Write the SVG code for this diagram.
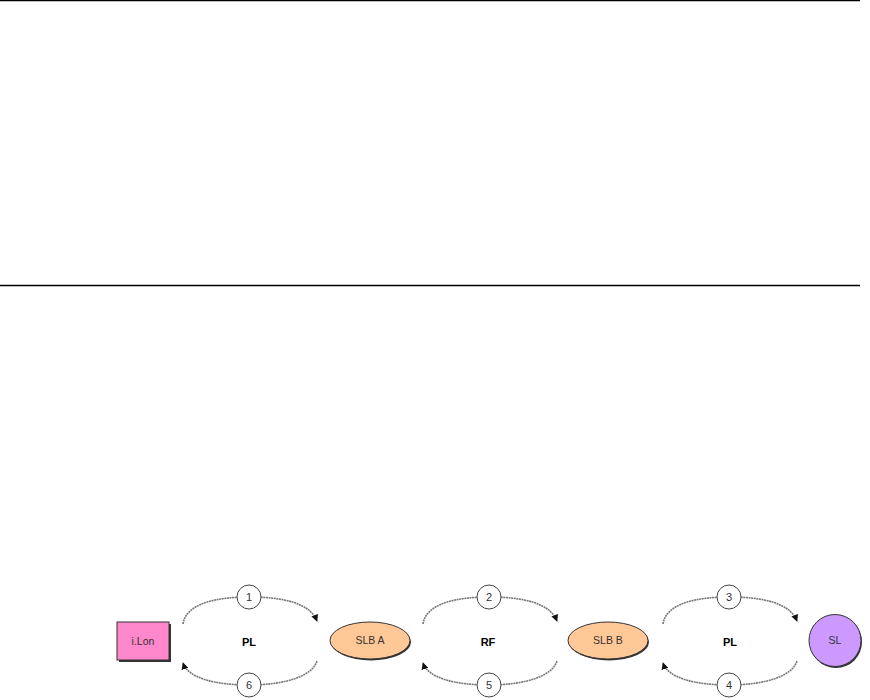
<svg xmlns="http://www.w3.org/2000/svg" width="870" height="700" viewBox="0 0 870 700">
<defs>
<marker id="ah" viewBox="0 0 10 10" refX="9" refY="5" markerWidth="7" markerHeight="7" markerUnits="userSpaceOnUse" orient="auto">
<path d="M0,0 L10,5 L0,10 z" fill="#111"/>
</marker>
<style>
.rule{stroke:#000;stroke-width:1.3;fill:none}
.arc{stroke:#777;stroke-width:1.6;fill:none;stroke-dasharray:2 0.6;marker-end:url(#ah)}
.badge{fill:#fff;stroke:#444;stroke-width:1}
.num{font-family:"Liberation Sans",Arial,sans-serif;font-size:11px;fill:#333;text-anchor:middle}
.lbl{font-family:"Liberation Sans",Arial,sans-serif;font-size:10.5px;fill:#333;text-anchor:middle}
.bold{font-family:"Liberation Sans",Arial,sans-serif;font-size:11px;font-weight:bold;fill:#000;text-anchor:middle}
.shadow{fill:#333}
</style>
</defs>
<rect width="870" height="700" fill="#fff"/>
<line class="rule" x1="0" y1="0.7" x2="860" y2="0.7"/>
<line class="rule" x1="0" y1="285.5" x2="860" y2="285.5"/>

<g id="connectors">
<path class="arc" d="M183,624 C186,604 215,597 249,597 C283,597 310,603 317,621"/>
<path class="arc" d="M317,661 C312,677 283,685 249,685 C215,685 188,678 183,663"/>
<path class="arc" d="M423,624 C426,604 455,597 489,597 C523,597 550,603 557,621"/>
<path class="arc" d="M557,661 C552,677 523,685 489,685 C455,685 428,678 423,663"/>
<path class="arc" d="M663,624 C666,604 695,597 729,597 C763,597 790,603 797,621"/>
<path class="arc" d="M797,661 C792,677 763,685 729,685 C695,685 668,678 663,663"/>
<g id="label1"><circle class="badge" cx="249" cy="597" r="12"/><text class="num" x="249" y="601">1</text></g>
<g id="label6"><circle class="badge" cx="249" cy="685" r="12"/><text class="num" x="249" y="689">6</text></g>
<g id="label2"><circle class="badge" cx="489" cy="597" r="12"/><text class="num" x="489" y="601">2</text></g>
<g id="label5"><circle class="badge" cx="489" cy="685" r="12"/><text class="num" x="489" y="689">5</text></g>
<g id="label3"><circle class="badge" cx="729" cy="597" r="12"/><text class="num" x="729" y="601">3</text></g>
<g id="label4"><circle class="badge" cx="729" cy="685" r="12"/><text class="num" x="729" y="689">4</text></g>
<text class="bold" x="249" y="646">PL</text>
<text class="bold" x="488" y="646">RF</text>
<text class="bold" x="730" y="646">PL</text>
</g>

<g id="ilon">
<rect class="shadow" x="119" y="624" width="52" height="38"/>
<rect x="117" y="622" width="52" height="38" fill="#ff88cc" stroke="#333" stroke-width="1"/>
<text class="lbl" x="143" y="645">i.Lon</text>
</g>
<g id="slba">
<ellipse class="shadow" cx="371" cy="642" rx="40" ry="18.5"/>
<ellipse cx="370" cy="640.5" rx="40" ry="18.5" fill="#ffc896" stroke="#333" stroke-width="1"/>
<text class="lbl" x="370" y="644">SLB A</text>
</g>
<g id="slbb">
<ellipse class="shadow" cx="609" cy="642" rx="40" ry="18.5"/>
<ellipse cx="608" cy="640.5" rx="40" ry="18.5" fill="#ffc896" stroke="#333" stroke-width="1"/>
<text class="lbl" x="608" y="644">SLB B</text>
</g>
<g id="sl">
<circle class="shadow" cx="836" cy="642" r="26"/>
<circle cx="835" cy="640.5" r="26" fill="#cc99ff" stroke="#333" stroke-width="1"/>
<text class="lbl" x="835" y="644">SL</text>
</g>
</svg>
